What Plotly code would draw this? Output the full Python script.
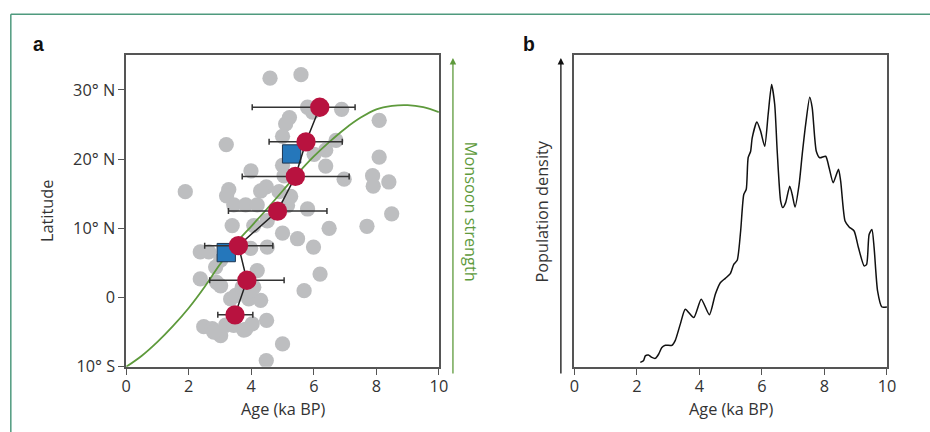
import plotly.graph_objects as go

# ---------------- data ----------------
# Panel a: grey site dots (age ka BP, latitude deg; negative = south)
site_age = [4.60, 5.59, 5.80, 5.96, 6.89, 5.22, 5.10, 8.09, 3.20, 5.00,
            6.71, 6.38, 6.01, 6.38, 8.09, 5.00, 3.99, 6.97, 7.88, 7.90,
            8.40, 1.89, 3.28, 3.21, 4.48, 4.30, 4.89, 5.26, 3.44, 3.82,
            4.19, 5.80, 8.49, 5.16, 3.39, 4.08, 4.51, 5.00, 6.49, 7.70,
            5.48, 5.99, 2.37, 2.64, 3.98, 4.51, 2.86, 3.02, 4.19, 2.37,
            2.89, 4.08, 6.20, 5.69, 3.34, 3.50, 3.92, 4.30, 3.71, 4.49,
            2.48, 2.75, 3.02, 3.18, 3.44, 3.82, 4.03, 2.80, 5.00, 4.48,
            3.76, 3.98, 5.05, 3.02]
site_lat = [31.7, 32.2, 27.5, 26.8, 27.2, 26.0, 25.1, 25.6, 22.1, 23.3,
            22.7, 21.3, 20.7, 19.0, 20.3, 19.1, 18.3, 17.1, 17.6, 16.1,
            16.7, 15.3, 15.6, 14.7, 16.0, 15.4, 15.3, 14.6, 13.4, 13.4,
            13.4, 12.8, 12.1, 13.3, 10.4, 10.4, 11.1, 9.3, 10.0, 10.3,
            8.5, 7.3, 6.6, 6.6, 7.1, 7.3, 4.4, 5.4, 3.9, 2.7,
            2.2, 1.5, 3.4, 1.0, -0.2, 0.3, -0.2, -0.4, 1.5, -3.3,
            -4.2, -4.5, -5.5, -4.0, -4.0, -4.6, -3.8, -5.0, -6.7, -9.1,
            -4.7, 1.0, 17.6, 1.7]

# Red band means with age error bars
mean_age = [6.19, 5.75, 5.41, 4.84, 3.59, 3.86, 3.48]
mean_lat = [27.5, 22.5, 17.5, 12.5, 7.5, 2.5, -2.5]
err_plus = [1.13, 1.16, 1.72, 1.58, 1.10, 1.19, 0.57]
err_minus = [2.16, 1.18, 1.70, 1.57, 1.08, 1.19, 0.55]

# Blue squares
sq_age = [5.29, 3.20]
sq_lat = [20.75, 6.5]

# Monsoon strength curve
monsoon_age = [0, 0.5, 1.0, 1.5, 2.0, 2.5, 3.0, 3.5, 4.0, 4.5, 5.0,
               5.5, 6.0, 6.5, 7.0, 7.5, 8.0, 8.5, 9.0, 9.5, 10.0]
monsoon_lat = [-10, -8.4, -6.4, -4.1, -1.5, 1.5, 4.8, 7.8, 10.3, 12.8, 15.4,
               18.0, 20.4, 22.5, 24.4, 26.0, 27.2, 27.7, 27.8, 27.5, 26.8]

# Panel b: population density (arbitrary units, 0-100)
dens_age = [2.11, 2.21, 2.27, 2.37, 2.48, 2.59, 2.70, 2.80, 2.91, 3.12,
            3.23, 3.39, 3.55, 3.82, 4.06, 4.32, 4.51, 4.67, 4.83, 4.99,
            5.10, 5.21, 5.32, 5.42, 5.50, 5.56, 5.64, 5.69, 5.84, 5.96,
            6.09, 6.20, 6.31, 6.41, 6.49, 6.60, 6.67, 6.76, 6.89, 6.97,
            7.06, 7.19, 7.29, 7.40, 7.53, 7.61, 7.74, 7.85, 8.04, 8.15,
            8.28, 8.45, 8.52, 8.66, 8.79, 8.95, 9.09, 9.27, 9.35, 9.43,
            9.52, 9.59, 9.70, 9.84, 10.0]
dens_val = [1.4, 1.9, 3.5, 3.8, 3.0, 2.7, 4.1, 6.2, 6.9, 6.9,
            8.5, 13.7, 18.5, 15.8, 21.7, 16.7, 23.3, 27.0, 28.4, 29.9,
            32.9, 34.2, 43.6, 55.3, 57.0, 67.1, 69.2, 73.5, 78.6, 75.6,
            70.8, 81.0, 90.6, 84.2, 69.2, 53.2, 51.1, 52.7, 58.0, 55.3,
            51.3, 58.5, 68.2, 77.8, 86.5, 83.1, 69.2, 67.1, 67.6, 63.9,
            59.1, 63.4, 59.6, 46.8, 44.9, 43.6, 38.2, 32.4, 32.9, 42.5,
            44.1, 38.2, 24.4, 19.2, 19.2]

x_ticks = [0, 2, 4, 6, 8, 10]
lat_ticks = [-10, 0, 10, 20, 30]
lat_labels = ['10° S', '0', '10° N', '20° N', '30° N']

# ---------------- figure ----------------
W, H = 944, 444
# layout calibration: positions below are given in target-picture pixels
SX, CX = 0.982, 5.2
SY, CY = 0.975, -1.0
K = 1 / SX
FONT = 'Open Sans'
TXT = '#333333'
GREEN = '#5e9a3c'
AX = '#555555'


def px(x):
    return ((x - CX) / SX) / W


def py(y):
    return 1 - ((y - CY) / SY) / H


fig = go.Figure()

fig.add_trace(go.Scatter(x=site_age, y=site_lat, mode='markers',
                         marker=dict(size=15 * K, color='#bdbec0'),
                         xaxis='x', yaxis='y', showlegend=False))
fig.add_trace(go.Scatter(x=monsoon_age, y=monsoon_lat, mode='lines',
                         line=dict(color=GREEN, width=1.8, shape='spline'),
                         xaxis='x', yaxis='y', showlegend=False))
fig.add_trace(go.Scatter(x=sq_age, y=sq_lat, mode='markers',
                         marker=dict(size=18 * K, symbol='square', color='#2577bb',
                                     line=dict(color='#1e3550', width=1)),
                         xaxis='x', yaxis='y', showlegend=False))
fig.add_trace(go.Scatter(x=mean_age, y=mean_lat, mode='lines+markers',
                         line=dict(color='#222222', width=1.5),
                         marker=dict(size=19 * K, color='#b8123f'),
                         error_x=dict(type='data', array=err_plus, arrayminus=err_minus,
                                      color='#333333', thickness=1.5, width=3),
                         xaxis='x', yaxis='y', showlegend=False))
fig.add_trace(go.Scatter(x=dens_age, y=dens_val, mode='lines',
                         line=dict(color='#111111', width=1.5, shape='spline', smoothing=0.6),
                         xaxis='x2', yaxis='y2', showlegend=False))

ydom = [py(365.7), py(54.3)]
axis_common = dict(showline=True, mirror=True, linecolor=AX, linewidth=1.5,
                   showgrid=False, zeroline=False, ticks='outside', ticklen=6,
                   tickcolor=AX, tickwidth=1.2,
                   tickfont=dict(family=FONT, size=16 * K, color=TXT))

fig.update_layout(
    width=W, height=H, margin=dict(l=0, r=0, t=0, b=0),
    paper_bgcolor='white', plot_bgcolor='white',
    xaxis=dict(domain=[px(126), px(437.7)], range=[0, 10], tickvals=x_ticks,
               anchor='y', ticklabelstandoff=-2, **axis_common),
    yaxis=dict(domain=ydom, range=[-10, 35], tickvals=lat_ticks, ticktext=lat_labels,
               anchor='x', **axis_common),
    xaxis2=dict(domain=[px(572.7), px(884.3)], range=[0, 10], tickvals=x_ticks,
                anchor='y2', ticklabelstandoff=-2, **axis_common),
    yaxis2=dict(domain=ydom, range=[0, 100], anchor='x2', showline=True, mirror=True,
                linecolor=AX, linewidth=1.5, showgrid=False, zeroline=False,
                showticklabels=False, ticks=''),
)


def ann(text, x, y, size=16, color=TXT, angle=0, bold=False, family=FONT):
    fig.add_annotation(text=('<b>%s</b>' % text) if bold else text,
                       x=px(x), y=py(y), xref='paper', yref='paper',
                       showarrow=False, textangle=angle,
                       font=dict(family=family, size=size * K, color=color),
                       xanchor='center', yanchor='middle')


ann('a', 39, 43, size=19, bold=True, family='Liberation Sans', color='#111')
ann('b', 528, 43, size=19, bold=True, family='Liberation Sans', color='#111')
ann('Latitude', 47, 210, angle=-90)
ann('Age (ka BP)', 282, 408)
ann('Age (ka BP)', 729, 408)
ann('Population density', 541, 211, angle=-90)
ann('Monsoon strength', 470, 211, color=GREEN, angle=90)

# arrows
for ax_x, col in ((451.7, GREEN), (559.3, '#111')):
    fig.add_annotation(x=px(ax_x), y=py(57), xref='paper', yref='paper',
                       ax=0, ay=(366 - 57) / SY, axref='pixel', ayref='pixel',
                       showarrow=True, arrowhead=2, arrowsize=1, arrowwidth=1.3,
                       arrowcolor=col, text='')

# frame lines
BORDER = '#4f9a7e'
fig.add_shape(type='line', xref='paper', yref='paper', x0=px(11), x1=1,
              y0=py(13.3), y1=py(13.3), line=dict(color=BORDER, width=1.5))
fig.add_shape(type='line', xref='paper', yref='paper', x0=px(11), x1=px(11),
              y0=0, y1=py(13.3), line=dict(color=BORDER, width=1.5))

page_css = ("document.documentElement.style.margin='0';"
            "document.documentElement.style.overflow='hidden';"
            "document.body.style.margin='0';"
            "document.body.style.padding='0';"
            "document.body.style.overflow='hidden';")

fig.write_html('out.html', post_script=page_css,
               config={'displayModeBar': False, 'responsive': False})
